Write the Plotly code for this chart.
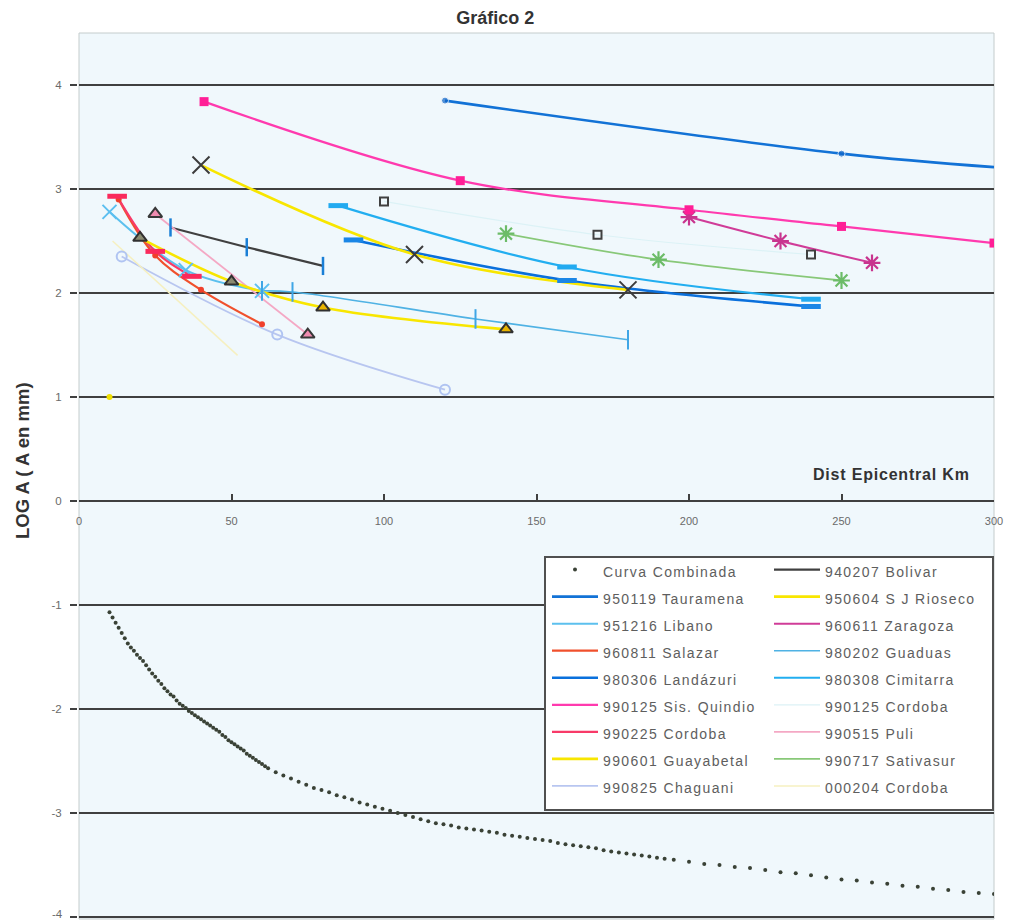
import plotly.graph_objects as go

# ---------------- data (distance km, log A) ----------------
comb_km = [10, 11, 12, 13, 14, 15, 16, 17, 18, 19, 20, 21, 22, 23, 24, 25, 26, 27, 28, 29,
           30, 31, 32, 33, 34, 35, 36, 37, 38, 39, 40, 41, 42, 43, 44, 45, 46, 47, 48, 49,
           50, 51, 52, 53, 54, 55, 56, 57, 58, 59, 60, 61, 62,
           64.5, 67, 69.5, 72, 74.5, 77, 79.5, 82, 84.5, 87, 89.5, 92, 94.5, 97, 99.5,
           102, 104.5, 107, 109.5, 112, 114.5, 117, 119.5, 122, 124.5, 127, 129.5, 132,
           134.5, 137, 139.5, 142, 144.5, 147, 149.5, 152, 154.5, 157, 159.5, 162, 164.5,
           167, 169.5, 172, 174.5, 177, 179.5, 182, 184.5, 187, 189.5, 192,
           195, 200, 205, 210, 215, 220, 225, 230, 235, 240, 245, 250, 255, 260, 265, 270,
           275, 280, 285, 290, 295, 300]
comb_loga = [-1.07, -1.12, -1.17, -1.22, -1.27, -1.32, -1.37, -1.41, -1.44, -1.48, -1.51,
             -1.54, -1.58, -1.62, -1.66, -1.69, -1.73, -1.76, -1.80, -1.83, -1.86, -1.88,
             -1.92, -1.95, -1.97, -1.99, -2.02, -2.04, -2.06, -2.08, -2.10, -2.12, -2.14,
             -2.16, -2.18, -2.20, -2.22, -2.25, -2.27, -2.30, -2.32, -2.34, -2.36, -2.38,
             -2.40, -2.43, -2.45, -2.47, -2.49, -2.51, -2.53, -2.55, -2.57,
             -2.61, -2.64, -2.67, -2.70, -2.73, -2.76, -2.78, -2.80, -2.83, -2.85, -2.87,
             -2.90, -2.92, -2.94, -2.96, -2.98, -3.00, -3.02, -3.04, -3.06, -3.08, -3.10,
             -3.11, -3.12, -3.14, -3.15, -3.16, -3.17, -3.18, -3.19, -3.21, -3.22, -3.23,
             -3.24, -3.25, -3.26, -3.27, -3.29, -3.30, -3.31, -3.32, -3.33, -3.34, -3.36,
             -3.37, -3.38, -3.39, -3.40, -3.41, -3.42, -3.43, -3.44,
             -3.45, -3.47, -3.49, -3.50, -3.52, -3.53, -3.55, -3.57, -3.58, -3.60, -3.62,
             -3.64, -3.65, -3.67, -3.68, -3.70, -3.71, -3.73, -3.74, -3.76, -3.77, -3.78]

bolivar_km = [30, 55, 80]
bolivar_loga = [2.63, 2.44, 2.26]
tauramena_km = [120, 250, 300]
tauramena_loga = [3.85, 3.34, 3.21]
rioseco_km = [40, 110, 180]
rioseco_loga = [3.23, 2.37, 2.03]
libano_km = [10, 35, 60]
libano_loga = [2.78, 2.22, 2.02]
zaragoza_km = [200, 230, 260]
zaragoza_loga = [2.73, 2.50, 2.29]
salazar_km = [13, 25, 40, 60]
salazar_loga = [2.90, 2.36, 2.03, 1.70]
guaduas_km = [60, 70, 130, 180]
guaduas_loga = [2.02, 2.01, 1.75, 1.55]
landazuri_km = [90, 160, 240]
landazuri_loga = [2.51, 2.12, 1.87]
cimitarra_km = [85, 160, 240]
cimitarra_loga = [2.84, 2.25, 1.94]
quindio_km = [41, 125, 200, 250, 300]
quindio_loga = [3.84, 3.08, 2.80, 2.64, 2.48]
cordoba990125_km = [100, 170, 240]
cordoba990125_loga = [2.88, 2.56, 2.37]
cordoba990225_km = [12.5, 25, 37]
cordoba990225_loga = [2.93, 2.40, 2.16]
puli_km = [25, 75]
puli_loga = [2.76, 1.60]
guayabetal_km = [20, 50, 80, 140]
guayabetal_loga = [2.53, 2.11, 1.86, 1.65]
sativasur_km = [140, 190, 250]
sativasur_loga = [2.57, 2.32, 2.12]
chaguani_km = [14, 65, 120]
chaguani_loga = [2.35, 1.60, 1.07]
cordoba000204_km = [11, 52]
cordoba000204_loga = [2.50, 1.40]
cordoba000204_pt_km = [10]
cordoba000204_pt_loga = [1.0]

x_ticks = [0, 50, 100, 150, 200, 250, 300]
y_ticks = [-4, -3, -2, -1, 0, 1, 2, 3, 4]

# ---------------- series styling ----------------
# (name, x, y, line color, line width, marker dict, line z-order)
series = [
    ("940207 Bolivar", bolivar_km, bolivar_loga, "#404040", 2.2,
     dict(symbol="line-ns", size=13, line=dict(color="#1a7fd6", width=2.5)), 0),
    ("950119 Tauramena", tauramena_km, tauramena_loga, "#1272d6", 2.6,
     dict(symbol="circle", size=[7, 7, 0], color="#1066c8"), 0),
    ("950604 S J Rioseco", rioseco_km, rioseco_loga, "#f8e600", 2.6,
     dict(symbol="x-thin", size=17, line=dict(color="#3c3c3c", width=2)), 1),
    ("951216 Libano", libano_km, libano_loga, "#5cc0ee", 2,
     dict(symbol="x-thin", size=14, line=dict(color="#5cbff0", width=2)), 0),
    ("960611 Zaragoza", zaragoza_km, zaragoza_loga, "#d03c98", 2,
     dict(symbol="asterisk", size=14, line=dict(color="#c8348e", width=2.2)), 0),
    ("960811 Salazar", salazar_km, salazar_loga, "#f0502c", 2.2,
     dict(symbol="circle", size=6, color="#f0402c"), 0),
    ("980202 Guaduas", guaduas_km, guaduas_loga, "#4fb2e4", 1.6,
     dict(symbol="line-ns", size=14, line=dict(color="#3fa6e6", width=2)), 0),
    ("980306 Landázuri", landazuri_km, landazuri_loga, "#0a70dc", 2.6,
     dict(symbol="line-ew", size=14, line=dict(color="#1a86e6", width=5)), 0),
    ("980308 Cimitarra", cimitarra_km, cimitarra_loga, "#22aef0", 2.2,
     dict(symbol="line-ew", size=14, line=dict(color="#22aaf0", width=5)), 0),
    ("990125 Sis. Quindio", quindio_km, quindio_loga, "#ff3aae", 2.2,
     dict(symbol="square", size=9, color="#ff1f96"), 0),
    ("990125 Cordoba", cordoba990125_km, cordoba990125_loga, "#dcf2f6", 1.2,
     dict(symbol="square-open", size=8, color="#404040", line=dict(color="#404040", width=2)), 0),
    ("990225 Cordoba", cordoba990225_km, cordoba990225_loga, "#f83a68", 2.2,
     dict(symbol="line-ew", size=14, line=dict(color="#fa2a5c", width=5)), 0),
    ("990515 Puli", puli_km, puli_loga, "#f4a8c4", 1.8,
     dict(symbol="triangle-up", size=12, color="#f08cb0", line=dict(color="#383838", width=2)), 0),
    ("990601 Guayabetal", guayabetal_km, guayabetal_loga, "#f8e600", 2.6,
     dict(symbol="triangle-up", size=12, color=["#8a8a70", "#8a8a70", "#e8b400", "#e8b400"],
          line=dict(color="#303030", width=2)), 0),
    ("990717 Sativasur", sativasur_km, sativasur_loga, "#88c878", 1.8,
     dict(symbol="asterisk", size=14, line=dict(color="#6cbc68", width=2.2)), 0),
    ("990825 Chaguani", chaguani_km, chaguani_loga, "#b8c6f0", 1.8,
     dict(symbol="circle-open", size=10, color="#b0c4f2", line=dict(color="#b0c4f2", width=2)), 0),
    ("000204 Cordoba", cordoba000204_km, cordoba000204_loga, "#f6f0c0", 1.5, None, 0),
]

legend_names = ["Curva Combinada"] + [s[0] for s in series]


def lg(name):
    return f'<span style="font-size:14px;letter-spacing:1.4px">{name}</span>'


def which_legend(name):
    # two-column legend: entries alternate left / right, row by row
    return "legend" if legend_names.index(name) % 2 == 0 else "legend2"


fig = go.Figure()

fig.add_trace(go.Scatter(
    x=comb_km, y=comb_loga, mode="markers", name=lg("Curva Combinada"),
    legend=which_legend("Curva Combinada"),
    marker=dict(size=4, color="#3a4236"), hoverinfo="skip"))

for name, xs, ys, col, w, mk, z in series:
    fig.add_trace(go.Scatter(
        x=xs, y=ys, mode="lines", name=lg(name), legend=which_legend(name), zorder=z,
        line=dict(color=col, width=w, shape="spline", smoothing=1)))

for name, xs, ys, col, w, mk, z in series:
    if mk is None:
        continue
    fig.add_trace(go.Scatter(
        x=xs, y=ys, mode="markers", showlegend=False, marker=mk, zorder=2,
        cliponaxis=(name != "990125 Sis. Quindio")))

fig.add_trace(go.Scatter(
    x=cordoba000204_pt_km, y=cordoba000204_pt_loga, mode="markers", showlegend=False,
    marker=dict(size=6, color="#f0e000"), zorder=2))

# pixel geometry of the plot area (y = 4.5 at top, -4.02 at bottom)
PX_L, PX_R, PX_T, PX_B = 79, 994, 33, 919
PW, PH = PX_R - PX_L, PX_B - PX_T
Y_MIN, Y_MAX = -4.02, 4.5


def px_x(px):
    return (px - PX_L) / PW


def px_y(py):
    return (PX_B - py) / PH


# the lowest tick label sits at the page's bottom edge: draw it a few px higher
y_ticktext = ["" if v == y_ticks[0] else str(v) for v in y_ticks]

legend_common = dict(
    orientation="v", xanchor="left", yanchor="top", xref="paper", yref="paper",
    bgcolor="rgba(0,0,0,0)", borderwidth=0,
    font=dict(family="Liberation Sans, Arial, sans-serif", size=18.5, color="#5e5e5e"),
    itemwidth=46, traceorder="normal", itemclick=False, itemdoubleclick=False,
)

fig.update_layout(
    width=1013, height=921,
    margin=dict(l=PX_L, r=1013 - PX_R, t=PX_T, b=921 - PX_B, autoexpand=False),
    paper_bgcolor="white",
    plot_bgcolor="#f0f8fc",
    font=dict(family="Liberation Sans, Arial, sans-serif", color="#555555"),
    title=dict(text="<b>Gráfico 2</b>", x=0.489, xanchor="center", y=1 - 18 / 921,
               yanchor="middle", xref="container", yref="container",
               font=dict(family="Liberation Sans, Arial, sans-serif", size=18, color="#333333")),
    showlegend=True,
    legend=dict(x=px_x(547), y=px_y(551), **legend_common),
    legend2=dict(x=px_x(769), y=px_y(551), **legend_common),
    xaxis=dict(
        range=[0, 300], tickvals=x_ticks, ticktext=[str(v) for v in x_ticks],
        anchor="free", position=(0 - Y_MIN) / (Y_MAX - Y_MIN),
        showline=True, linecolor="#404040", linewidth=2,
        ticks="inside", ticklen=6, tickwidth=1.5, tickcolor="#404040",
        ticklabelstandoff=10, ticklabeloverflow="allow",
        showgrid=False, zeroline=False,
        tickfont=dict(size=11, color="#6a6a6a"),
    ),
    yaxis=dict(
        range=[Y_MIN, Y_MAX], tickvals=y_ticks, ticktext=y_ticktext,
        showline=True, linecolor="#404040", linewidth=2,
        ticks="outside", ticklen=7, tickwidth=2, tickcolor="#404040",
        ticklabelstandoff=6, ticklabeloverflow="allow",
        showgrid=True, gridcolor="#404040", gridwidth=2,
        zeroline=False,
        tickfont=dict(size=11.5, color="#6a6a6a"),
    ),
    shapes=[
        dict(type="rect", xref="paper", yref="paper", x0=0, x1=1, y0=0, y1=1,
             line=dict(color="#c4cccc", width=1), layer="below"),
        dict(type="rect", xref="paper", yref="paper", x0=px_x(545), x1=px_x(993),
             y0=px_y(810), y1=px_y(557), fillcolor="white",
             line=dict(color="#505050", width=2), layer="above"),
    ],
    annotations=[
        dict(text=str(y_ticks[0]), xref="paper", yref="y", x=px_x(65), y=y_ticks[0],
             xanchor="right", yanchor="bottom", yshift=-5, showarrow=False,
             font=dict(family="Liberation Sans, Arial, sans-serif", size=11.5, color="#6a6a6a")),
        dict(text='<b><span style="letter-spacing:0.8px">Dist Epicentral Km</span></b>',
             xref="paper", yref="y", x=px_x(972), y=0.25,
             xanchor="right", yanchor="middle", showarrow=False,
             font=dict(family="Liberation Sans, Arial, sans-serif", size=16, color="#333333")),
        dict(text="<b>LOG A ( A en mm)</b>", xref="paper", yref="paper", x=px_x(22), y=px_y(461),
             xanchor="center", yanchor="middle", textangle=-90, showarrow=False,
             font=dict(family="Liberation Sans, Arial, sans-serif", size=18.5, color="#333333")),
    ],
)

fig.write_html("out.html", config={"displayModeBar": False},
               post_script="document.body.style.margin='0px';")
